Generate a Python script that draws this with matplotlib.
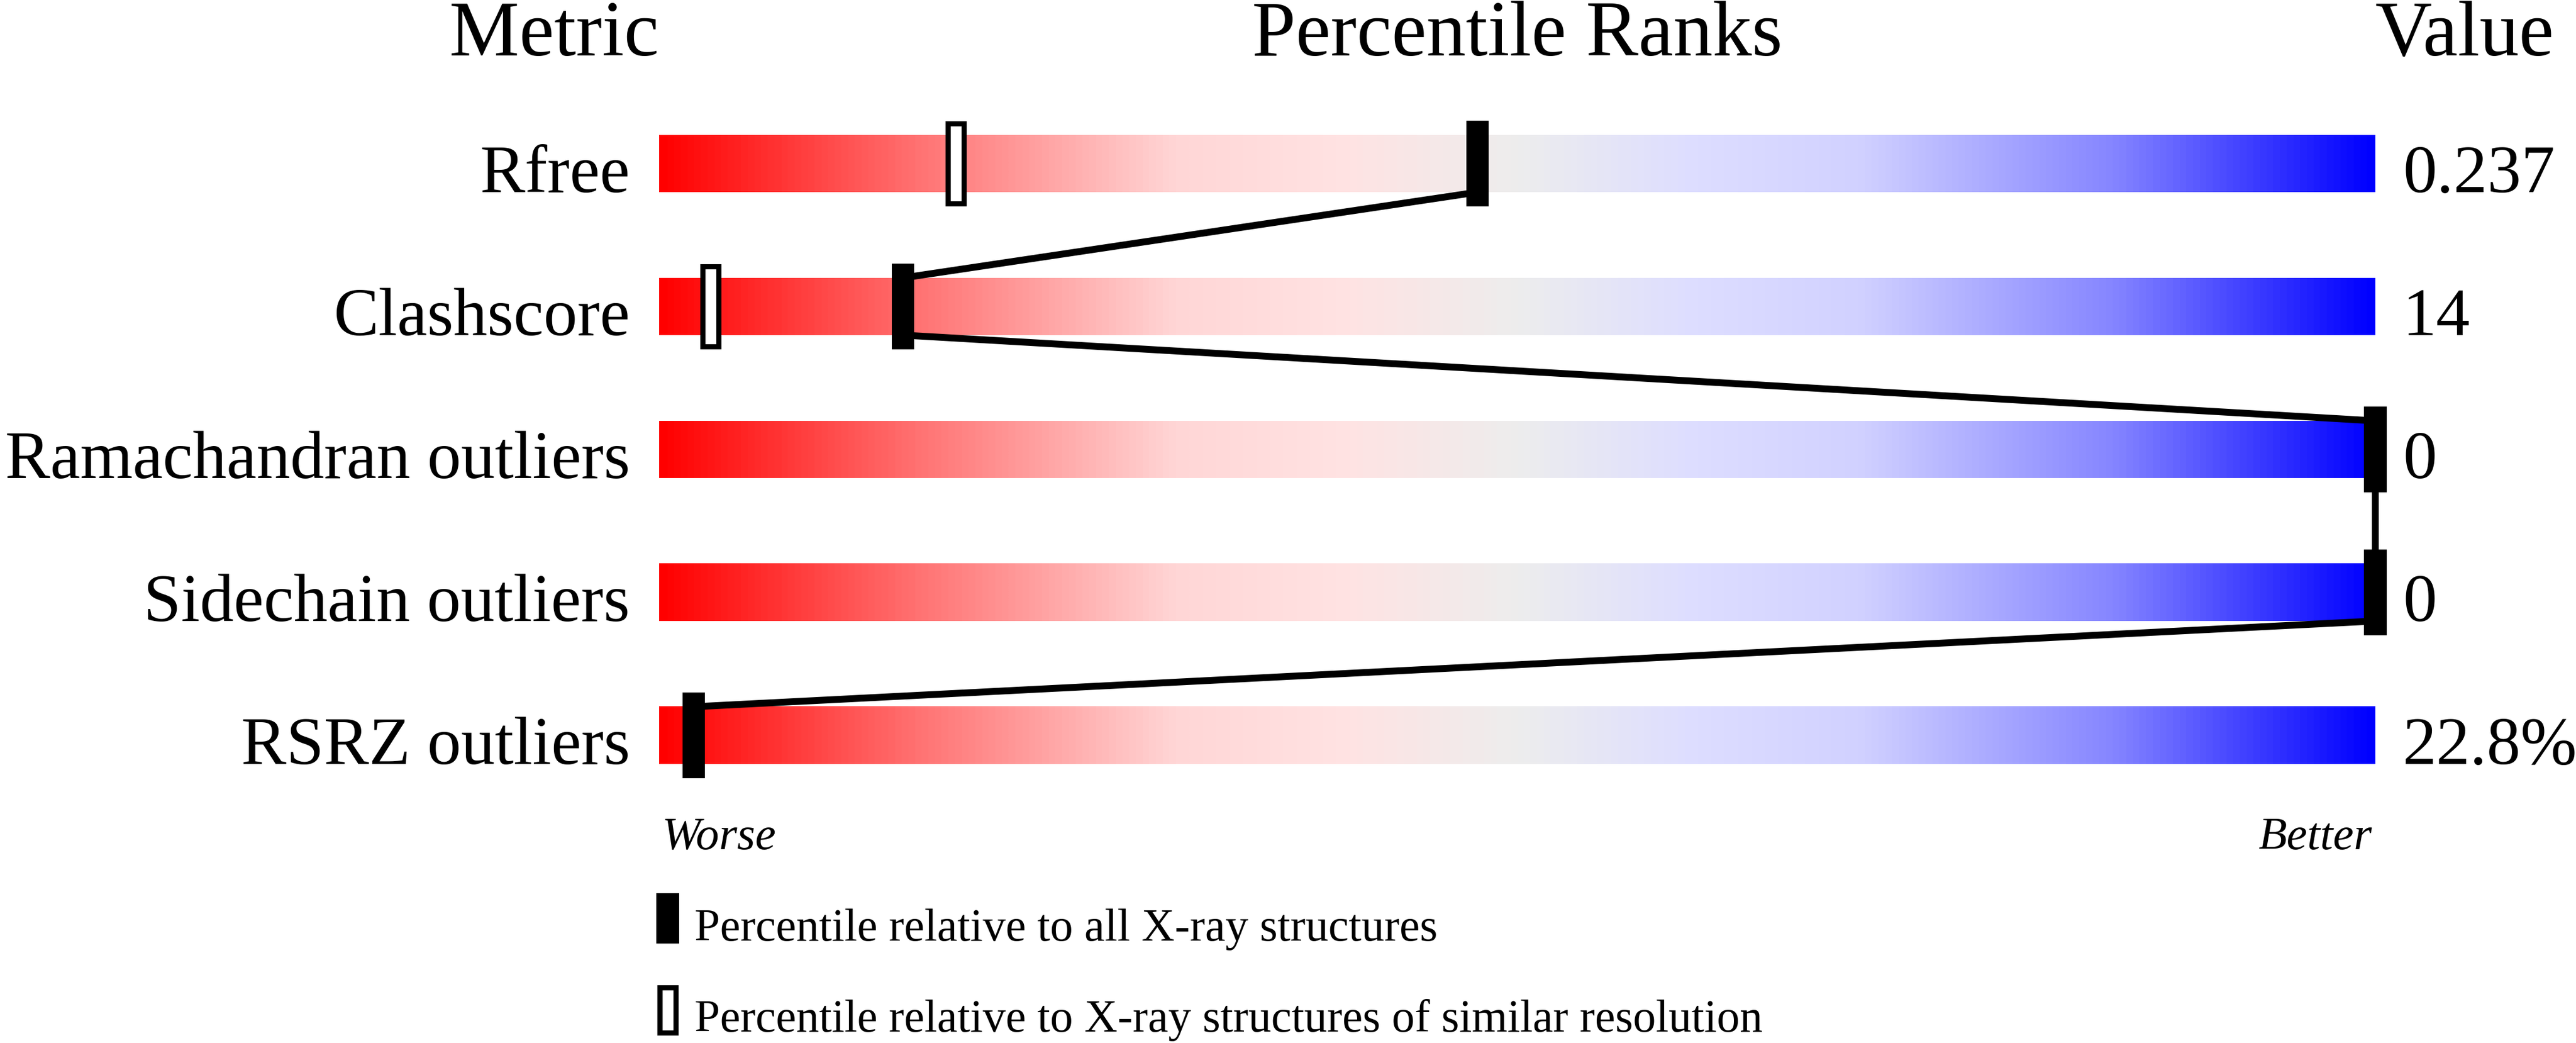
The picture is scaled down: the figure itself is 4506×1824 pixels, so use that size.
import numpy as np
import matplotlib
matplotlib.use("Agg")
import matplotlib.pyplot as plt
from matplotlib.colors import LinearSegmentedColormap
from matplotlib.patches import Rectangle

# ---- data ----
metrics = ["Rfree", "Clashscore", "Ramachandran outliers", "Sidechain outliers", "RSRZ outliers"]
values = ["0.237", "14", "0", "0", "22.8%"]
pct_all = [47.7, 14.2, 100, 100, 2]
pct_similar = [17.3, 3, 100, 100, 2]
legend_labels = ["Percentile relative to all X-ray structures",
                 "Percentile relative to X-ray structures of similar resolution"]

plt.rcParams['font.family'] = ['Liberation Serif', 'DejaVu Serif']

W, H, DPI = 4506, 1824, 300
fig = plt.figure(figsize=(W / DPI, H / DPI), dpi=DPI)

# axes spanning bar horizontally (percentile 0..100), whole figure vertically
x0_px, x1_px = 1153, 4155
ax = fig.add_axes([x0_px / W, 0, (x1_px - x0_px) / W, 1])
row0_px, row_px = 286, 250
ytop = -row0_px / row_px
ybot = (H - row0_px) / row_px
ax.set_axis_off()

cmap = LinearSegmentedColormap.from_list("slider", [
    (0.00, (1.0, 0.0, 0.0)),
    (0.15, (1.0, 0.45, 0.45)),
    (0.30, (1.0, 0.84, 0.84)),
    (0.40, (1.0, 0.89, 0.89)),
    (0.50, (0.93, 0.93, 0.93)),
    (0.60, (0.87, 0.87, 1.0)),
    (0.70, (0.82, 0.82, 1.0)),
    (0.85, (0.52, 0.52, 1.0)),
    (1.00, (0.0, 0.0, 1.0)),
])
grad = np.linspace(0, 1, 512).reshape(1, -1)

bar_h = 0.4
mk_h = 0.6
mk_w = 1.3
lw_line = 12 * 72 / DPI
lw_edge = 9 * 72 / DPI
label_fs = 28.4

for i, (m, v, pa, ps) in enumerate(zip(metrics, values, pct_all, pct_similar)):
    ax.imshow(grad, extent=[0, 100, i + bar_h / 2, i - bar_h / 2], aspect='auto',
              cmap=cmap, interpolation='bilinear', zorder=1)
    ax.text(-1.7, i + bar_h / 2, m, ha='right', va='baseline', fontsize=label_fs)
    ax.text(101.6, i + bar_h / 2, v, ha='left', va='baseline', fontsize=label_fs, clip_on=False)
    # hollow marker (similar resolution)
    ax.add_patch(Rectangle((ps - 0.93 / 2, i - 0.56 / 2), 0.93, 0.56, facecolor='white',
                           edgecolor='black', lw=lw_edge, zorder=3, clip_on=False))
    # filled marker (all structures)
    ax.add_patch(Rectangle((pa - mk_w / 2, i - mk_h / 2), mk_w, mk_h, facecolor='black',
                           edgecolor='none', zorder=4, clip_on=False))

# connecting line between filled markers
for i in range(len(metrics) - 1):
    ax.plot([pct_all[i], pct_all[i + 1]], [i + bar_h / 2, i + 1 - bar_h / 2],
            color='black', lw=lw_line, solid_capstyle='butt', zorder=2, clip_on=False)

# headers
hy = (97 - row0_px) / row_px
ax.text(0, hy, "Metric", ha='right', va='baseline', fontsize=33)
ax.text(50, hy, "Percentile Ranks", ha='center', va='baseline', fontsize=33)
ax.text(100, hy, "Value", ha='left', va='baseline', fontsize=33, clip_on=False)

# worse / better
wy = (1485 - row0_px) / row_px
ax.text(0.15, wy, "Worse", ha='left', va='baseline', fontsize=19.5, style='italic')
ax.text(99.8, wy, "Better", ha='right', va='baseline', fontsize=19.5, style='italic')

# legend
ly1 = (1606 - row0_px) / row_px
ly2 = (1766 - row0_px) / row_px
lh = 88 / row_px
ax.add_patch(Rectangle((0.5 - mk_w / 2, ly1 - lh / 2), mk_w, lh, facecolor='black',
                       edgecolor='none', clip_on=False))
ax.add_patch(Rectangle((0.5 - 0.93 / 2, ly2 - (lh - 0.036) / 2), 0.93, lh - 0.036,
                       facecolor='white', edgecolor='black', lw=lw_edge, clip_on=False))
ax.text(2.07, (1645 - row0_px) / row_px, legend_labels[0], ha='left', va='baseline', fontsize=19.2)
ax.text(2.07, (1804 - row0_px) / row_px, legend_labels[1], ha='left', va='baseline', fontsize=19.2)

ax.set_xlim(0, 100)
ax.set_ylim(ybot, ytop)

fig.savefig("out.png", dpi=DPI, facecolor='white')
